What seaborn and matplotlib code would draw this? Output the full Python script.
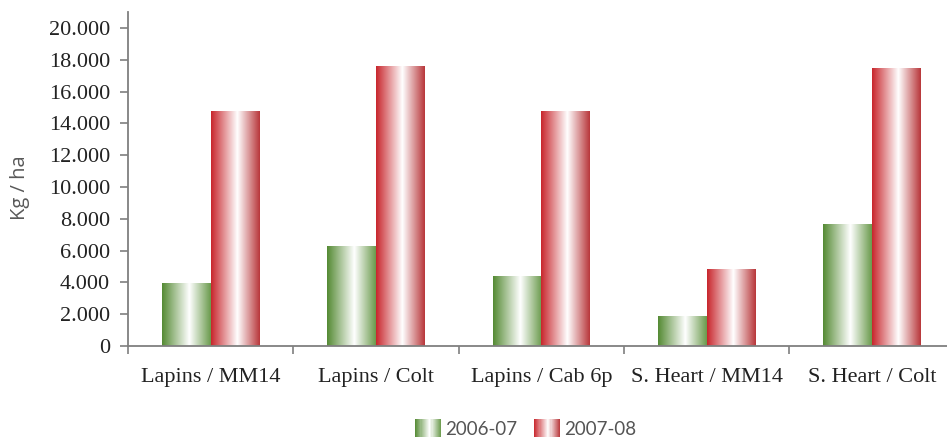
import numpy as np
import pandas as pd
import matplotlib
matplotlib.use("Agg")
import matplotlib.pyplot as plt
import seaborn as sns
from matplotlib.colors import LinearSegmentedColormap
from matplotlib.legend_handler import HandlerBase
from matplotlib.patches import Rectangle
from matplotlib.ticker import FuncFormatter, FixedLocator

# Yield per rootstock combination (kg/ha) for two seasons
categories = ["Lapins / MM14", "Lapins / Colt", "Lapins / Cab 6p",
              "S. Heart / MM14", "S. Heart / Colt"]
seasons = ["2006-07", "2007-08"]
yield_0607 = [3950, 6300, 4400, 1900, 7680]
yield_0708 = [14750, 17620, 14750, 4840, 17450]

df = pd.DataFrame({
    "combo": categories * 2,
    "season": [seasons[0]] * len(categories) + [seasons[1]] * len(categories),
    "kg": yield_0607 + yield_0708,
})

# Cylinder-like horizontal shading: coloured edges, white highlight
grad_green = LinearSegmentedColormap.from_list(
    "g", [(0.0, "#548a33"), (0.56, "#ffffff"), (1.0, "#6a9a4c")])
grad_red = LinearSegmentedColormap.from_list(
    "r", [(0.0, "#c8262c"), (0.54, "#ffffff"), (1.0, "#b8363a")])
season_cmaps = {seasons[0]: grad_green, seasons[1]: grad_red}
palette = {seasons[0]: "#548a33", seasons[1]: "#c8262c"}

sns.set_style("white")
plt.rcParams["font.family"] = ["Liberation Serif", "DejaVu Serif"]

fig = plt.figure(figsize=(9.47, 4.37), dpi=100)
ax = fig.add_axes([128 / 947, 1 - 346 / 437, 1 - 128 / 947, (346 - 12) / 437])

sns.barplot(data=df, x="combo", y="kg", hue="season", order=categories,
            hue_order=seasons, palette=palette, width=0.59, gap=0,
            saturation=1, legend=False, ax=ax, edgecolor="none")

# Overlay gradient images clipped to each bar
gradient = np.linspace(0, 1, 256).reshape(1, -1)
bars = [p for p in ax.patches if isinstance(p, Rectangle)]
n = len(categories)
for i, bar in enumerate(bars):
    cmap = season_cmaps[seasons[i // n]]
    x0, y0 = bar.get_x(), bar.get_y()
    w, h = bar.get_width(), bar.get_height()
    im = ax.imshow(gradient, cmap=cmap, aspect="auto",
                   extent=[x0, x0 + w, y0, y0 + h], zorder=bar.get_zorder() + 0.1,
                   interpolation="bilinear")
    im.set_clip_path(bar)
ax.set_xlim(-0.5, 4.453)
ax.set_ylim(0, 21000)

# Axes styling
for s in ["top", "right"]:
    ax.spines[s].set_visible(False)
for s in ["left", "bottom"]:
    ax.spines[s].set_color("#7f7f7f")
    ax.spines[s].set_linewidth(1.3)

yticks = list(range(0, 20001, 2000))
ax.yaxis.set_major_locator(FixedLocator(yticks))
ax.yaxis.set_major_formatter(FuncFormatter(
    lambda v, p: "0" if v == 0 else f"{int(v):,}".replace(",", ".")))
ax.tick_params(axis="y", direction="out", length=6, width=1.2, color="#7f7f7f",
               pad=7, labelsize=16, labelcolor="#222222", left=True)

ax.set_xticks(range(len(categories)))
ax.set_xticklabels(categories)
ax.set_xticks([i - 0.5 for i in range(len(categories))], minor=True)
ax.tick_params(axis="x", which="major", length=0, pad=16, labelsize=16,
               labelcolor="#222222")
ax.tick_params(axis="x", which="minor", direction="out", length=6, width=1.2,
               color="#7f7f7f", bottom=True)
ax.set_xlabel("")
ax.set_ylabel("")
ax.grid(False)

fig.text(20 / 947, 1 - 188 / 437, "Kg / ha", rotation=90, ha="center", va="center",
         fontsize=14.5, color="#595959", family=["Open Sans", "DejaVu Sans"])


class GradientHandler(HandlerBase):
    def __init__(self, cmap, **kw):
        super().__init__(**kw)
        self.cmap = cmap

    def create_artists(self, legend, orig_handle, xdescent, ydescent, width,
                       height, fontsize, trans):
        arts = []
        steps = 24
        for k in range(steps):
            t = (k + 0.5) / steps
            r = Rectangle((-xdescent + k * width / steps, -ydescent - 1),
                          width / steps * 1.05, height + 2,
                          facecolor=self.cmap(t), edgecolor="none",
                          transform=trans)
            arts.append(r)
        return arts


h1 = Rectangle((0, 0), 1, 1)
h2 = Rectangle((0, 0), 1, 1)
leg = fig.legend([h1, h2], seasons, loc="center", bbox_to_anchor=(0.555, 1 - 429 / 437),
                 ncol=2, frameon=False, handlelength=1.4, handleheight=1.0,
                 handletextpad=0.2, columnspacing=0.9, borderpad=0.1,
                 prop={"family": ["Lato", "DejaVu Sans"], "size": 13.5},
                 handler_map={h1: GradientHandler(grad_green),
                              h2: GradientHandler(grad_red)})
for t in leg.get_texts():
    t.set_color("#555555")

fig.savefig("out.png", dpi=100)
